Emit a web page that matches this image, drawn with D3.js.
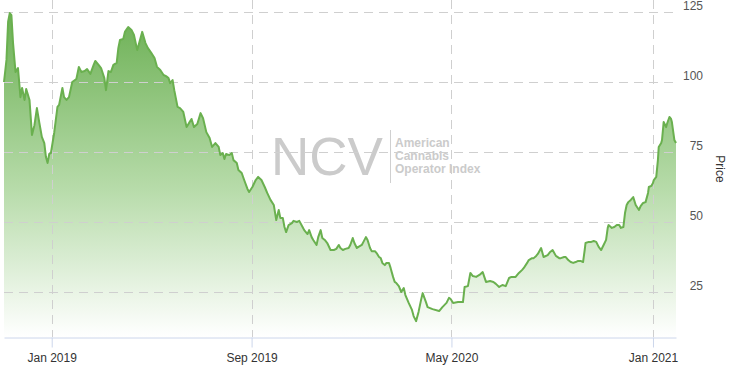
<!DOCTYPE html>
<html><head><meta charset="utf-8">
<script src="https://cdn.jsdelivr.net/npm/d3@7"></script>
<style>
body{margin:0;background:#fff}
svg{display:block;font-family:"Liberation Sans",Arial,sans-serif}
</style>
</head><body>
<svg id="c" width="730" height="366"></svg>
<script>
const dates = [
"2018-11-04","2018-11-07","2018-11-09","2018-11-11","2018-11-13","2018-11-15","2018-11-18","2018-11-21","2018-11-24","2018-11-26",
"2018-11-29","2018-12-01","2018-12-05","2018-12-08","2018-12-11","2018-12-14","2018-12-17","2018-12-20","2018-12-23","2018-12-25",
"2018-12-27","2018-12-29","2018-12-31","2019-01-04","2019-01-08","2019-01-10","2019-01-14","2019-01-16","2019-01-19","2019-01-22",
"2019-01-26","2019-01-31","2019-02-03","2019-02-06","2019-02-10","2019-02-13","2019-02-17","2019-02-21","2019-02-23","2019-02-27",
"2019-03-02","2019-03-06","2019-03-08","2019-03-11","2019-03-14","2019-03-17","2019-03-21","2019-03-23","2019-03-25","2019-03-29",
"2019-03-31","2019-04-04","2019-04-08","2019-04-11","2019-04-15","2019-04-19","2019-04-21","2019-04-25","2019-04-28","2019-05-02",
"2019-05-06","2019-05-09","2019-05-13","2019-05-17","2019-05-20","2019-05-23","2019-05-25","2019-05-28","2019-05-30","2019-06-03",
"2019-06-06","2019-06-10","2019-06-14","2019-06-17","2019-06-20","2019-06-23","2019-06-27","2019-07-01","2019-07-04","2019-07-08",
"2019-07-12","2019-07-15","2019-07-19","2019-07-23","2019-07-25","2019-07-28","2019-07-30","2019-08-01","2019-08-05","2019-08-08",
"2019-08-10","2019-08-14","2019-08-16","2019-08-20","2019-08-23","2019-08-27","2019-08-29","2019-09-02","2019-09-06","2019-09-09",
"2019-09-13","2019-09-17","2019-09-20","2019-09-24","2019-09-28","2019-10-01","2019-10-04","2019-10-06","2019-10-09","2019-10-11",
"2019-10-13","2019-10-16","2019-10-20","2019-10-22","2019-10-26","2019-10-29","2019-11-02","2019-11-04","2019-11-08","2019-11-10",
"2019-11-13","2019-11-15","2019-11-19","2019-11-21","2019-11-24","2019-11-26","2019-11-29","2019-12-02","2019-12-06","2019-12-10",
"2019-12-13","2019-12-16","2019-12-18","2019-12-21","2019-12-24","2019-12-28","2019-12-30","2020-01-02","2020-01-04","2020-01-07",
"2020-01-09","2020-01-13","2020-01-15","2020-01-18","2020-01-20","2020-01-23","2020-01-25","2020-01-29","2020-01-31","2020-02-03",
"2020-02-05","2020-02-07","2020-02-10","2020-02-12","2020-02-15","2020-02-17","2020-02-20","2020-02-22","2020-02-24","2020-02-27",
"2020-03-01","2020-03-04","2020-03-06","2020-03-10","2020-03-14","2020-03-16","2020-03-19","2020-03-22","2020-03-25","2020-03-27",
"2020-03-31","2020-04-02","2020-04-08","2020-04-16","2020-04-20","2020-04-25","2020-04-28","2020-04-30","2020-05-03","2020-05-09",
"2020-05-15","2020-05-17","2020-05-21","2020-05-24","2020-05-27","2020-05-31","2020-06-04","2020-06-08","2020-06-12","2020-06-17",
"2020-06-21","2020-06-24","2020-06-28","2020-07-02","2020-07-06","2020-07-10","2020-07-13","2020-07-18","2020-07-22","2020-07-26",
"2020-07-28","2020-08-01","2020-08-03","2020-08-07","2020-08-09","2020-08-12","2020-08-14","2020-08-18","2020-08-21","2020-08-26",
"2020-08-29","2020-09-01","2020-09-05","2020-09-09","2020-09-11","2020-09-15","2020-09-17","2020-09-20","2020-09-23","2020-09-26",
"2020-09-29","2020-10-02","2020-10-05","2020-10-08","2020-10-10","2020-10-11","2020-10-15","2020-10-18","2020-10-21","2020-10-24",
"2020-10-27","2020-10-30","2020-11-02","2020-11-05","2020-11-07","2020-11-08","2020-11-12","2020-11-15","2020-11-18","2020-11-21",
"2020-11-23","2020-11-26","2020-11-28","2020-11-30","2020-12-02","2020-12-05","2020-12-08","2020-12-11","2020-12-15","2020-12-17",
"2020-12-20","2020-12-23","2020-12-26","2020-12-27","2020-12-30","2021-01-01","2021-01-02","2021-01-05","2021-01-07","2021-01-08",
"2021-01-11","2021-01-12","2021-01-14","2021-01-17","2021-01-18","2021-01-21","2021-01-23","2021-01-24","2021-01-27","2021-01-29"
];
const values = [
100.0,107.9,121.5,124.6,123.9,113.9,103.6,105.0,94.6,97.9,
93.6,97.5,93.6,81.1,84.6,90.7,85.4,80.4,78.2,73.2,
71.1,74.3,74.6,81.8,91.1,91.8,97.9,94.6,93.6,94.6,
100.0,101.1,105.4,103.6,103.9,104.6,102.9,106.1,107.5,106.1,
105.0,101.4,97.1,103.9,103.6,106.1,106.8,112.1,115.0,115.4,
117.9,119.6,118.6,116.8,111.4,115.7,117.9,113.9,112.1,110.4,
108.6,105.4,104.3,102.5,102.1,101.4,99.6,100.7,97.1,91.1,
90.7,89.3,83.9,85.4,86.8,83.9,85.0,88.9,87.1,82.1,
80.0,76.8,78.2,76.8,73.9,74.6,72.5,74.3,73.9,74.6,
72.1,71.1,68.6,67.5,65.0,61.8,60.7,62.5,65.0,66.1,
65.0,62.5,60.4,57.9,56.1,50.7,54.3,51.4,51.4,48.2,
46.4,48.9,49.6,50.4,50.0,50.4,48.2,47.1,45.7,47.1,
44.6,43.6,41.8,44.6,47.1,44.3,43.6,42.5,40.0,40.0,
40.4,41.8,40.7,40.0,40.4,40.7,41.8,44.3,42.5,40.7,
41.1,41.8,42.9,44.6,43.6,40.7,39.6,39.6,38.9,37.5,
37.1,35.4,34.6,35.4,35.4,33.6,30.4,28.6,28.2,27.1,
25.0,26.4,23.9,21.1,18.6,16.4,14.6,17.9,22.1,24.6,
21.4,19.6,18.9,18.2,19.6,21.1,22.9,22.5,21.1,21.4,
21.4,26.8,27.1,31.8,30.7,30.4,31.1,32.1,28.6,28.9,
28.6,27.9,26.8,27.5,27.1,30.0,30.4,30.4,31.8,32.9,
33.6,35.4,36.4,37.1,37.1,37.9,38.6,40.7,37.5,38.2,
39.3,40.0,37.9,37.1,37.1,37.5,37.5,36.4,35.7,35.4,
35.7,36.1,36.1,35.7,40.0,42.5,42.9,42.9,43.2,42.9,
41.1,40.0,41.8,43.6,47.9,48.9,47.9,48.2,48.9,48.9,
47.9,48.2,53.2,56.1,57.1,57.9,58.9,56.1,54.3,55.7,
56.8,57.1,60.4,62.5,62.9,63.9,65.0,66.1,72.1,76.8,
78.2,79.3,85.7,83.9,85.0,87.5,86.8,85.7,79.3,78.2
];
const xTickDates = ["2019-01-01","2019-09-01","2020-05-01","2021-01-01"];
const yTicks = [25,50,75,100,125];
const yTitle = "Price";
const watermarkBig = "NCV";
const watermarkLines = ["American","Cannabis","Operator Index"];

const parse = d3.timeParse("%Y-%m-%d");
const data = dates.map((d,i)=>({date:parse(d), value:values[i]}));

const svg = d3.select("#c");
const L=4, R=676, T=0, B=337;
const x = d3.scaleTime().domain(d3.extent(data,d=>d.date)).range([L,R]);
const y = d3.scaleLinear().domain([8.93,129.29]).range([B,T]);

// gradient
const defs = svg.append("defs");
const grad = defs.append("linearGradient").attr("id","g").attr("gradientUnits","userSpaceOnUse")
  .attr("x1",0).attr("x2",0).attr("y1",y(d3.max(values))).attr("y2",B);
grad.append("stop").attr("offset",0).attr("stop-color","#6cb054");
grad.append("stop").attr("offset",0.55).attr("stop-color","#b8dcab");
grad.append("stop").attr("offset",1).attr("stop-color","#ffffff");

// watermark
const wm = svg.append("g").attr("fill","#cbcbcb");
wm.append("text").attr("x",271).attr("y",175).attr("font-size",53).attr("font-family","Liberation Sans, Arial, sans-serif")
  .text(watermarkBig);
wm.append("line").attr("x1",390.5).attr("x2",390.5).attr("y1",130).attr("y2",183).attr("stroke","#d0d0d0").attr("stroke-width",1);
wm.selectAll("text.sub").data(watermarkLines).join("text").attr("class","sub")
  .attr("x",395).attr("y",(d,i)=>147+i*13).attr("font-size",12).attr("font-weight","bold").text(d=>d);

// area
const area = d3.area().x(d=>x(d.date)).y0(B).y1(d=>y(d.value));
svg.append("path").datum(data).attr("d",area).attr("fill","url(#g)");

// grid
const grid = svg.append("g").attr("stroke","#cfcfcf").attr("stroke-dasharray","9,6").attr("stroke-width",1);
grid.selectAll("line.h").data(yTicks).join("line").attr("class","h")
  .attr("x1",L).attr("x2",R).attr("y1",d=>Math.round(y(d))+0.5).attr("y2",d=>Math.round(y(d))+0.5);
grid.selectAll("line.v").data(xTickDates.map(parse)).join("line").attr("class","v")
  .attr("x1",d=>Math.round(x(d))+0.5).attr("x2",d=>Math.round(x(d))+0.5).attr("y1",T).attr("y2",B);

// line
const line = d3.line().x(d=>x(d.date)).y(d=>y(d.value));
svg.append("path").datum(data).attr("d",line).attr("fill","none").attr("stroke","#6ab04f").attr("stroke-width",2).attr("stroke-linejoin","round");

// x axis
const xa = svg.append("g").attr("transform",`translate(0,${B+0.5})`)
  .call(d3.axisBottom(x).tickValues(xTickDates.map(parse)).tickSize(10).tickSizeOuter(0).tickPadding(6).tickFormat(d3.timeFormat("%b %Y")));
xa.select(".domain").attr("stroke","#ccd6eb");
xa.selectAll(".tick line").attr("stroke","#ccd6eb");
xa.selectAll(".tick text").attr("font-size",12).attr("fill","#333").attr("font-family","Liberation Sans, Arial, sans-serif");

// y axis
const ya = svg.append("g").attr("transform","translate(703,0)")
  .call(d3.axisRight(y).tickValues(yTicks).tickSize(0).tickPadding(0));
ya.select(".domain").remove();
ya.selectAll(".tick text").attr("text-anchor","end").attr("x",0).attr("dy","-0.25em")
  .attr("font-size",12).attr("fill","#555").attr("font-family","Liberation Sans, Arial, sans-serif");

svg.append("text").attr("transform","translate(716,169) rotate(90)").attr("text-anchor","middle")
  .attr("font-size",12).attr("fill","#333").text(yTitle);
</script>
</body></html>
